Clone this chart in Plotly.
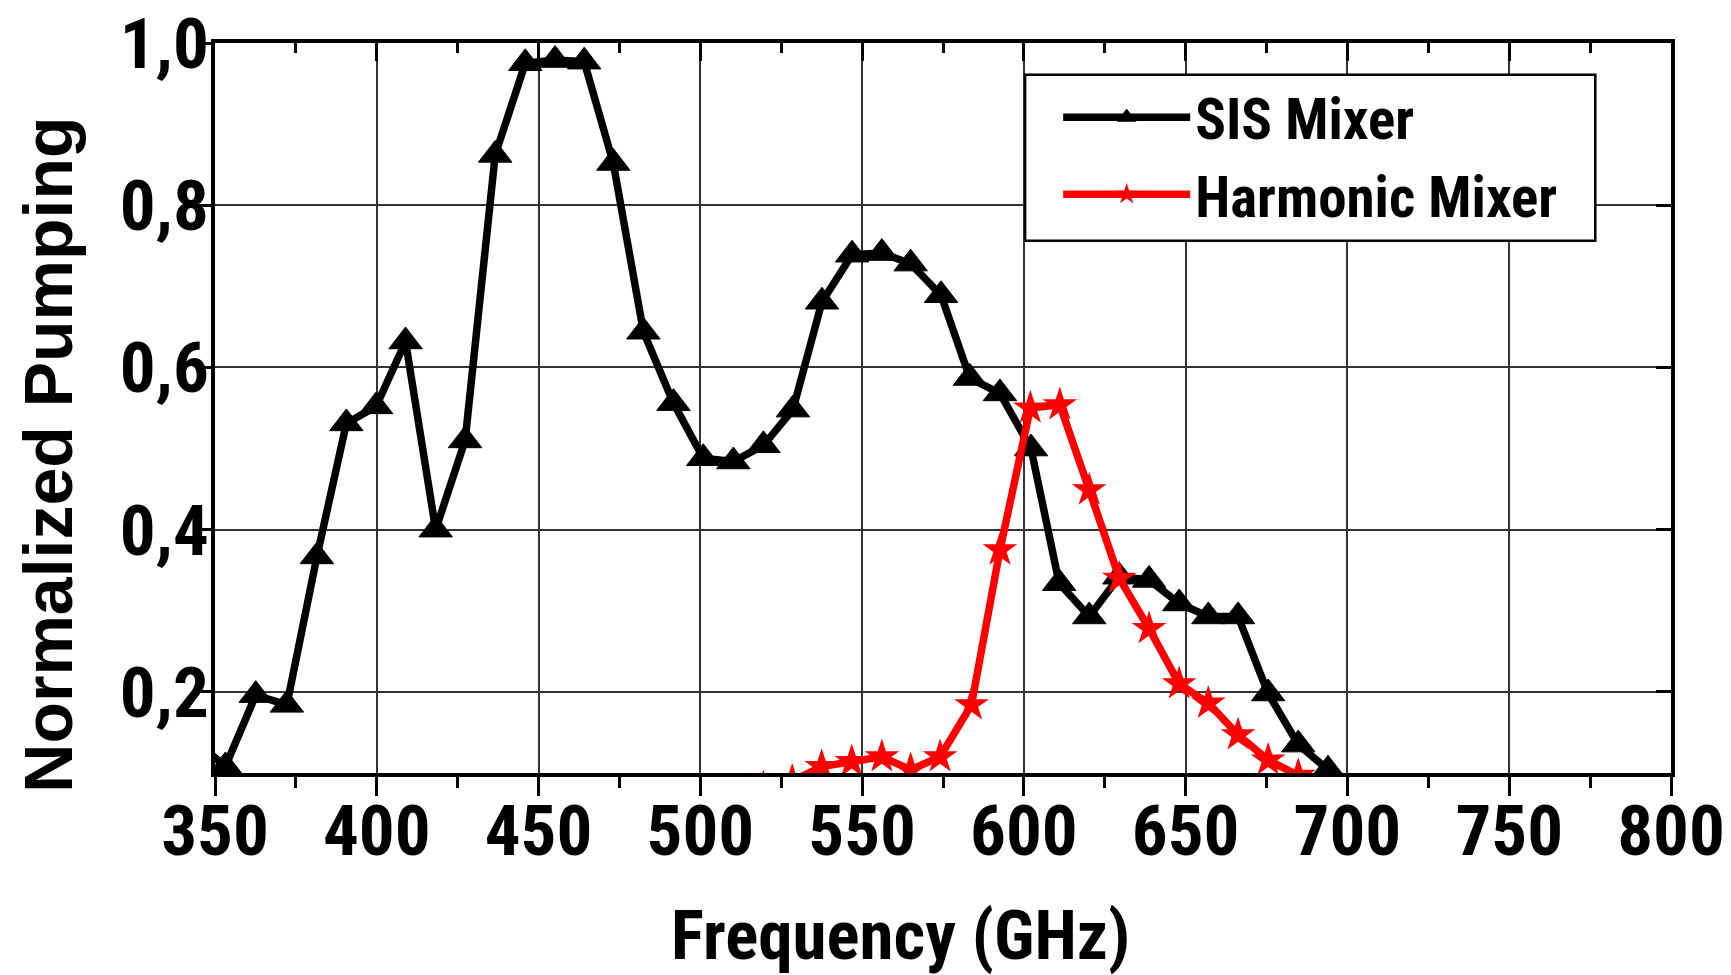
import plotly.graph_objects as go

# SIS mixer pumping vs LO frequency
sis_freq = [343.9, 353.2, 362.6, 372.2, 381.5, 390.6, 399.8, 408.9, 418.2, 427.3,
            436.6, 445.9, 455.1, 464.1, 473.1, 482.4, 491.7, 500.9, 510.2, 519.5,
            528.6, 537.6, 546.9, 556.1, 565.0, 574.4, 583.3, 592.6, 602.2, 610.9,
            620.2, 629.5, 638.7, 648.0, 657.0, 666.2, 675.5, 684.8, 694.0]
sis_pump = [0.140, 0.108, 0.196, 0.184, 0.367, 0.531, 0.552, 0.632, 0.400, 0.510,
            0.862, 0.975, 0.979, 0.977, 0.852, 0.644, 0.556, 0.488, 0.484, 0.504,
            0.548, 0.681, 0.739, 0.741, 0.728, 0.689, 0.587, 0.568, 0.500, 0.334,
            0.293, 0.342, 0.338, 0.309, 0.293, 0.293, 0.198, 0.135, 0.104]

# Harmonic mixer pumping vs LO frequency
hm_freq = [519.5, 528.4, 537.5, 546.8, 556.1, 565.0, 574.1, 583.8, 592.6, 602.0,
           611.1, 620.2, 629.5, 638.7, 648.0, 657.0, 666.2, 675.5, 684.8, 694.0]
hm_pump = [0.082, 0.090, 0.108, 0.114, 0.120, 0.104, 0.120, 0.184, 0.375, 0.550,
           0.554, 0.449, 0.340, 0.278, 0.210, 0.186, 0.147, 0.116, 0.097, 0.070]

x_range = [350, 800]
x_ticks = [350, 400, 450, 500, 550, 600, 650, 700, 750, 800]
y_range = [0.1, 1.0]
y_ticks = [0.2, 0.4, 0.6, 0.8, 1.0]

NARROW = "Roboto Condensed, Liberation Sans Narrow, Arial Narrow, Liberation Sans, sans-serif"
WIDE = "Liberation Sans, Arial, sans-serif"

fig = go.Figure()
fig.add_trace(go.Scatter(
    x=sis_freq, y=sis_pump, name="SIS Mixer", mode="lines+markers",
    line=dict(color="black", width=7.5),
    marker=dict(symbol="triangle-up", size=29, color="black",
                line=dict(color="black", width=1)),
))
fig.add_trace(go.Scatter(
    x=hm_freq, y=hm_pump, name="Harmonic Mixer", mode="lines+markers",
    line=dict(color="#ff0000", width=7.5),
    marker=dict(symbol="star", size=26, color="#ff0000",
                line=dict(color="#ff0000", width=0)),
))
# empty trace that carries the mirrored top/right frame axes
fig.add_trace(go.Scatter(x=[], y=[], xaxis="x2", yaxis="y2",
                         showlegend=False, hoverinfo="skip"))

tick_font = dict(family=NARROW, size=71, color="black", weight="bold")

frame = dict(showline=True, linecolor="black", linewidth=4,
             tickcolor="black", tickwidth=3, zeroline=False, automargin=False)

fig.update_layout(
    width=1731, height=975,
    margin=dict(l=215, r=60, t=43, b=202, autoexpand=False),
    paper_bgcolor="white", plot_bgcolor="white",
    separators=",.",
    showlegend=True,
    xaxis=dict(
        range=x_range, tickvals=x_ticks, tickfont=tick_font,
        ticklabelstandoff=-26, ticks="outside", ticklen=19,
        minor=dict(dtick=25, tick0=350, ticks="outside", ticklen=11,
                   tickwidth=3, tickcolor="black", showgrid=False),
        showgrid=True, gridcolor="#333333", gridwidth=1.5,
        **frame,
    ),
    yaxis=dict(
        range=y_range, tickvals=y_ticks, tickformat=".1f", tickfont=tick_font,
        ticklabelstandoff=-27, ticks="outside", ticklen=15,
        showgrid=True, gridcolor="#333333", gridwidth=1.5,
        **frame,
    ),
    xaxis2=dict(
        range=x_range, tickvals=x_ticks, overlaying="x", side="top",
        anchor="y2", showticklabels=False, ticks="inside", ticklen=18,
        minor=dict(dtick=25, tick0=350, ticks="inside", ticklen=10,
                   tickwidth=3, tickcolor="black", showgrid=False),
        showgrid=False, **frame,
    ),
    yaxis2=dict(
        range=y_range, tickvals=y_ticks, overlaying="y", side="right",
        anchor="x2", showticklabels=False, ticks="inside", ticklen=15,
        showgrid=False, **frame,
    ),
    legend=dict(
        x=0.5791, y=0.958, xanchor="left", yanchor="top",
        bgcolor="rgba(0,0,0,0)", borderwidth=0,
        font=dict(family=NARROW, size=57, color="black", weight="bold"),
        itemwidth=127, tracegroupgap=0,
    ),
    # legend frame
    shapes=[
        dict(type="rect", xref="paper", yref="paper",
             x0=0.5564, x1=0.9480, y0=0.7290, y1=0.9566,
             fillcolor="white", line=dict(color="black", width=2.5),
             layer="above"),
    ],
    annotations=[
        dict(text="Frequency (GHz)", xref="paper", yref="paper",
             x=0.4706, y=-0.2220, xanchor="center", yanchor="middle",
             showarrow=False,
             font=dict(family=NARROW, size=69, color="black", weight="bold")),
        dict(text="Normalized Pumping", xref="paper", yref="paper",
             x=-0.1148, y=0.4358, xanchor="center", yanchor="middle",
             textangle=-90, showarrow=False,
             font=dict(family=WIDE, size=68, color="black", weight="bold")),
    ],
)

fig.write_html("out.html")
